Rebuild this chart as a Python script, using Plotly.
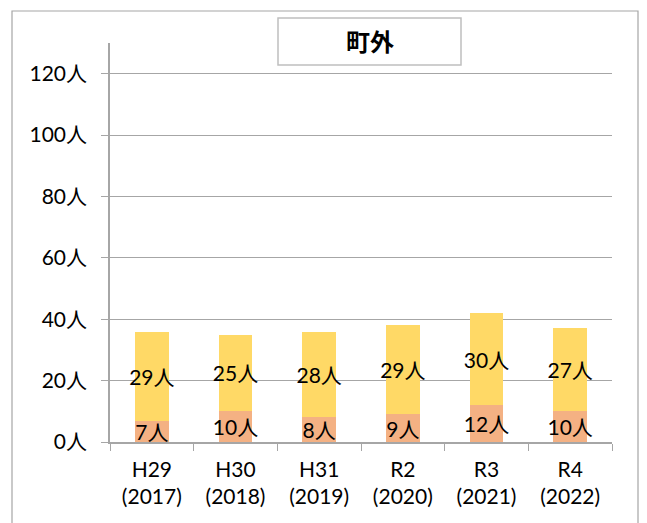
import plotly.graph_objects as go

categories = ["H29<br>(2017)", "H30<br>(2018)", "H31<br>(2019)", "R2<br>(2020)", "R3<br>(2021)", "R4<br>(2022)"]
lower_values = [7, 10, 8, 9, 12, 10]
upper_values = [29, 25, 28, 29, 30, 27]
y_ticks = [0, 20, 40, 60, 80, 100, 120]
title_text = "町外"

FONT = "Lato, 'Noto Sans CJK JP', sans-serif"
FS = 21

fig = go.Figure()
for vals, col in ((lower_values, "#F4B183"), (upper_values, "#FFD966")):
    fig.add_trace(go.Bar(
        x=categories, y=vals, marker_color=col, marker_line_width=0,
        text=[f"{v}人" for v in vals], textposition="inside", textangle=0,
        insidetextanchor="middle", constraintext="none",
        textfont=dict(family=FONT, size=FS, color="black"), width=0.4,
        hoverinfo="skip", cliponaxis=False,
    ))

W, H = 647, 523
L, R, T, B = 110, 612, 43, 442
pw, ph = R - L, B - T

def px(x):
    return (x - L) / pw

def py(y):
    return (B - y) / ph

fig.update_layout(
    width=W, height=H,
    margin=dict(l=L, r=W - R, t=T, b=H - B, pad=0),
    barmode="stack", showlegend=False,
    plot_bgcolor="white", paper_bgcolor="white",
    font=dict(family=FONT, size=FS, color="black"),
    xaxis=dict(
        showline=True, linecolor="#A6A6A6", linewidth=1.5,
        ticks="outside", tickson="boundaries", ticklen=7, tickcolor="#A6A6A6",
        tickfont=dict(family=FONT, size=FS), ticklabelstandoff=8,
    ),
    yaxis=dict(
        range=[0, 130], tickvals=y_ticks, ticktext=[f"{v}人" for v in y_ticks],
        showline=True, linecolor="#A6A6A6", linewidth=1.5,
        ticks="outside", ticklen=7, tickcolor="#A6A6A6",
        showgrid=True, gridcolor="#A6A6A6", gridwidth=1,
        tickfont=dict(family=FONT, size=FS), zeroline=False,
        ticklabelstandoff=10,
    ),
    shapes=[
        dict(type="rect", xref="paper", yref="paper",
             x0=px(12), x1=px(638), y0=py(11), y1=py(540),
             line=dict(color="#A6A6A6", width=1.2), fillcolor="rgba(0,0,0,0)", layer="below"),
        dict(type="rect", xref="paper", yref="paper",
             x0=px(278), x1=px(461), y0=py(18), y1=py(65),
             line=dict(color="#BFBFBF", width=1.5), fillcolor="white"),
    ],
    annotations=[
        dict(text=f"<b>{title_text}</b>", xref="paper", yref="paper",
             x=px(370), y=py(41), showarrow=False,
             font=dict(family="'Noto Sans CJK JP', sans-serif", size=24, color="black"),
             xanchor="center", yanchor="middle"),
    ],
)

fig.write_html("out.html", config={"displayModeBar": False},
               post_script="document.body.style.margin='0';document.body.style.overflow='hidden';")
